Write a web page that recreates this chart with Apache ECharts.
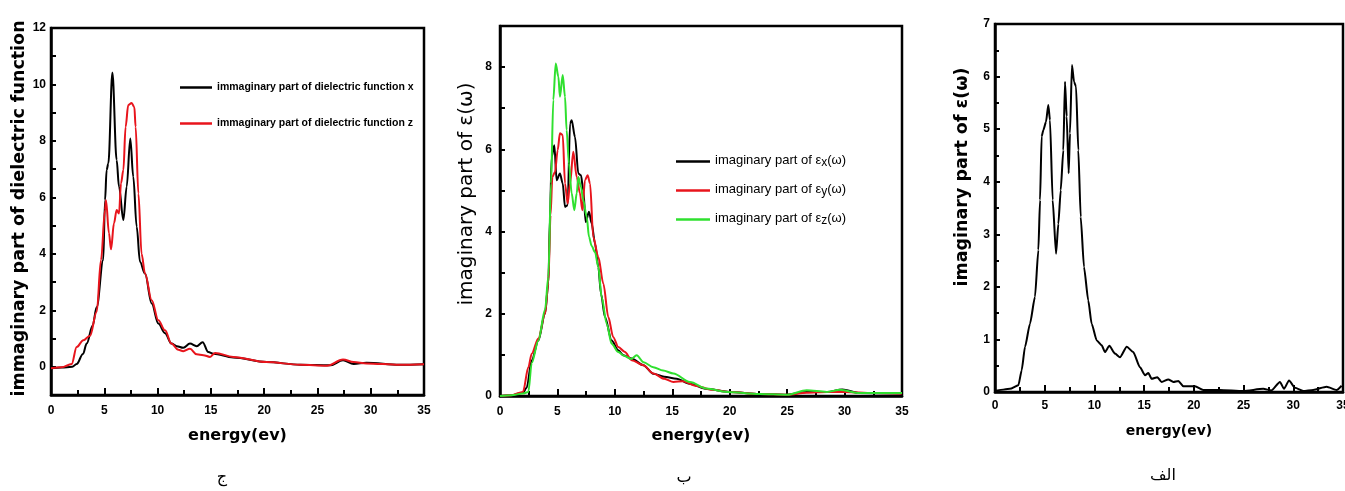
<!DOCTYPE html>
<html>
<head>
<meta charset="utf-8">
<script src="https://cdn.jsdelivr.net/npm/echarts@6/dist/echarts.min.js"></script>
<style>
  html, body { margin: 0; padding: 0; background: #fff; }
  #chart { width: 1345px; height: 491px; }
</style>
</head>
<body>
<div id="chart"></div>
<script>
// Imaginary part of the dielectric function vs photon energy (eV), three panels.

// Panel "ج": x and z components
const jEpsX = [[0,-0.05],[1,-0.03],[2,0.0],[2.41,0.1],[3.0,0.45],[3.35,0.82],[3.9,1.45],[4.29,2.12],[4.9,3.78],[5.07,5.9],[5.22,6.97],[5.38,7.2],[5.76,10.42],[6.16,7.32],[6.38,6.38],[6.79,5.2],[7.1,6.38],[7.44,8.09],[7.72,6.73],[8.04,4.96],[8.35,3.72],[8.82,3.3],[9.45,2.24],[10.07,1.53],[10.7,1.19],[11.3,0.82],[11.8,0.73],[12.41,0.67],[13.04,0.82],[13.67,0.73],[14.23,0.87],[14.76,0.52],[15.23,0.46],[17.1,0.33],[20.24,0.17],[23.4,0.07],[26.2,0.05],[27.4,0.23],[28.4,0.1],[29.6,0.14],[32.7,0.07],[35,0.09]];
const jEpsZ = [[0,-0.05],[1,-0.02],[1.94,0.1],[2.41,0.7],[3.03,0.94],[3.66,1.1],[4.29,1.95],[4.69,3.78],[5.07,5.55],[5.16,5.9],[5.44,4.73],[5.63,4.16],[5.91,5.08],[6.16,5.55],[6.38,5.43],[6.57,6.5],[6.79,6.97],[7.0,8.5],[7.25,9.27],[7.57,9.34],[7.82,9.2],[7.94,8.5],[8.2,6.14],[8.5,4.0],[8.82,3.3],[9.45,2.36],[10.07,1.65],[10.7,1.29],[11.3,0.82],[11.95,0.6],[12.41,0.55],[13.04,0.64],[13.67,0.44],[14.3,0.41],[14.92,0.35],[15.4,0.49],[17.1,0.35],[20.2,0.17],[23.4,0.07],[25.9,0.04],[27.4,0.26],[28.4,0.17],[29.6,0.12],[32.7,0.07],[35,0.09]];

// Panel "ب": x, y and z components
const bEpsX = [[0,0.0],[1,0.02],[2,0.08],[2.32,0.2],[2.76,0.87],[3.34,1.35],[3.92,2.0],[4.21,2.73],[4.35,4.36],[4.5,5.82],[4.73,6.1],[4.93,5.25],[5.22,5.41],[5.46,5.17],[5.66,4.6],[5.89,4.64],[6.1,6.63],[6.24,6.71],[6.53,6.3],[6.82,5.41],[7.05,5.37],[7.25,5.0],[7.46,4.23],[7.75,4.48],[7.98,4.2],[8.27,3.71],[8.56,3.14],[8.79,2.49],[9.14,1.92],[9.72,1.35],[10.3,1.11],[10.74,0.99],[11.46,0.91],[12.48,0.75],[13.35,0.54],[14.3,0.47],[15.38,0.42],[16.5,0.3],[18,0.17],[20,0.1],[22.6,0.05],[25,0.03],[26.7,0.1],[28.5,0.1],[29.8,0.16],[31.3,0.07],[35,0.06]];
const bEpsY = [[0,0.0],[1,0.02],[2,0.1],[2.47,0.7],[2.76,1.03],[3.34,1.4],[3.92,2.0],[4.21,2.75],[4.4,4.4],[4.56,5.33],[4.79,5.45],[5.02,5.98],[5.22,6.39],[5.46,6.35],[5.66,5.17],[5.89,4.68],[6.1,5.17],[6.38,5.94],[6.68,5.33],[6.96,4.93],[7.17,4.52],[7.4,5.25],[7.63,5.37],[7.84,5.17],[8.12,3.87],[8.56,3.38],[9.0,2.73],[9.43,1.92],[9.86,1.43],[10.3,1.19],[10.88,1.07],[11.46,0.87],[12.48,0.75],[13.35,0.55],[14.3,0.42],[15.1,0.34],[15.9,0.36],[17,0.25],[18.5,0.15],[20,0.1],[22.6,0.05],[25,0.03],[26.7,0.08],[28.5,0.1],[30,0.1],[32.5,0.07],[35,0.06]];
const bEpsZ = [[0,0.0],[1,0.02],[2,0.06],[2.47,0.1],[2.76,0.8],[3.34,1.35],[3.92,2.1],[4.21,2.9],[4.44,5.17],[4.64,7.2],[4.85,8.09],[5.08,7.77],[5.22,7.28],[5.46,7.81],[5.66,7.28],[5.8,6.47],[6.0,5.66],[6.24,4.93],[6.47,4.52],[6.68,4.93],[6.82,5.33],[7.05,5.09],[7.25,4.76],[7.55,4.36],[7.75,3.87],[7.98,3.65],[8.27,3.5],[8.56,3.14],[8.85,2.41],[9.29,1.76],[9.72,1.27],[10.3,1.07],[10.8,0.98],[11.4,0.9],[11.9,0.99],[12.5,0.82],[13.35,0.7],[14.2,0.62],[15.1,0.55],[16.54,0.34],[18.0,0.18],[19.74,0.1],[22.6,0.05],[25.0,0.03],[26.7,0.14],[28.45,0.1],[29.6,0.15],[31.3,0.07],[35,0.07]];

// Panel "الف": averaged spectrum
const aEps = [[0,0.0],[0.17,0.03],[1.5,0.06],[2.35,0.13],[2.68,0.41],[3.02,0.86],[3.52,1.3],[4.02,1.81],[4.36,2.7],[4.53,3.65],[4.69,4.86],[4.86,4.98],[5.13,5.14],[5.36,5.46],[5.53,5.17],[5.8,3.65],[6.14,2.63],[6.37,3.2],[6.61,3.84],[6.87,4.6],[7.04,5.9],[7.21,5.24],[7.41,4.16],[7.54,4.92],[7.74,6.22],[7.95,5.9],[8.15,5.81],[8.38,4.6],[8.62,3.33],[8.95,2.38],[9.38,1.74],[9.72,1.3],[10.23,0.98],[10.73,0.89],[11.06,0.76],[11.5,0.88],[12.07,0.73],[12.57,0.66],[13.25,0.86],[13.9,0.76],[14.58,0.47],[15.09,0.32],[15.42,0.36],[15.76,0.25],[16.33,0.28],[16.76,0.19],[17.43,0.24],[17.93,0.19],[18.44,0.21],[18.94,0.11],[20.11,0.11],[20.95,0.04],[22.6,0.04],[24.97,0.02],[26.98,0.06],[27.8,0.03],[28.66,0.19],[29.07,0.06],[29.57,0.22],[30.17,0.08],[31.0,0.02],[32.0,0.04],[33.35,0.1],[34.36,0.04],[34.86,0.12]];

// Axis ranges and tick steps
const energyRange = [0, 35];
const energyStep = 5;
const jRange = [-1, 12];
const bRange = [0, 9];
const aRange = [0, 7];

// Legend / panel texts
const jNames = ['immaginary part of dielectric function x', 'immaginary part of dielectric function z'];
const bNames = ['εx', 'εy', 'εz'];
const panelTags = ['ج', 'ب', 'الف'];

const FONT = "'Liberation Sans', Arial, sans-serif";
const WIDE = "'DejaVu Sans', Verdana, sans-serif";
const BLACK = '#000000', RED = '#e8141c', GREEN = '#2fe02f';

function xAxisFor(gridIndex, nameGap, nameSize, labelMargin) {
  return {
    type: 'value', gridIndex, min: energyRange[0], max: energyRange[1], interval: energyStep,
    name: 'energy(ev)', nameLocation: 'middle', nameGap,
    nameTextStyle: { fontFamily: WIDE, fontWeight: 'bold', fontSize: nameSize, color: '#000' },
    axisLine: { onZero: false, lineStyle: { color: '#000', width: 2.5 } },
    axisTick: { inside: true, length: 7, lineStyle: { color: '#000', width: 2 } },
    minorTick: { show: true, splitNumber: 2, length: 5, lineStyle: { color: '#000', width: 2 } },
    axisLabel: { fontFamily: FONT, fontWeight: 'bold', fontSize: 12, color: '#000', margin: labelMargin },
    splitLine: { show: false }
  };
}

function yAxisFor(gridIndex, range, opts) {
  return {
    type: 'value', gridIndex, min: range[0], max: range[1], interval: opts.interval,
    name: opts.name, nameLocation: 'middle', nameGap: opts.nameGap,
    nameTextStyle: Object.assign({ fontFamily: WIDE, color: '#000' }, opts.nameStyle),
    axisLine: { onZero: false, lineStyle: { color: '#000', width: 2.5 } },
    axisTick: { inside: true, length: 5, lineStyle: { color: '#000', width: 2 } },
    minorTick: { show: !!opts.minor, splitNumber: 2, length: 4, lineStyle: { color: '#000', width: 2 } },
    axisLabel: {
      fontFamily: FONT, fontWeight: 'bold', fontSize: 12, color: '#000', margin: opts.labelMargin,
      formatter: opts.formatter
    },
    splitLine: { show: false }
  };
}

const evenOnly = v => (Math.round(v) % 2 === 0 ? String(Math.round(v)) : '');

function lineSeries(name, data, color, axisIndex, smooth) {
  return {
    type: 'line', name, data, xAxisIndex: axisIndex, yAxisIndex: axisIndex,
    showSymbol: false, symbol: 'none', smooth, smoothMonotone: 'x',
    lineStyle: { color, width: 2 }, itemStyle: { color },
    animation: false, silent: true
  };
}

const gridBox = { show: true, borderColor: '#000', borderWidth: 2.5, containLabel: false, outerBoundsMode: 'none' };

const option = {
  backgroundColor: '#ffffff',
  animation: false,
  grid: [
    Object.assign({ left: 51, right: 921, top: 28, bottom: 96 }, gridBox),
    Object.assign({ left: 500, right: 443, top: 26, bottom: 95 }, gridBox),
    Object.assign({ left: 995, right: 2, top: 24, bottom: 99 }, gridBox)
  ],
  xAxis: [
    xAxisFor(0, 33, 16, 10),
    xAxisFor(1, 32, 16, 10),
    xAxisFor(2, 32, 14, 8)
  ],
  yAxis: [
    yAxisFor(0, jRange, {
      interval: 1, formatter: evenOnly, labelMargin: 5, nameGap: 23,
      name: 'immaginary part of dielectric function',
      nameStyle: { fontWeight: 'bold', fontSize: 17.5, padding: [0, 0, 0, 6] }
    }),
    yAxisFor(1, bRange, {
      interval: 1, formatter: evenOnly, labelMargin: 8, nameGap: 23,
      name: 'imaginary part of ε(ω)',
      nameStyle: { fontWeight: 'normal', fontSize: 20, padding: [0, 0, 0, 34] }
    }),
    yAxisFor(2, aRange, {
      interval: 1, minor: true, labelMargin: 5, nameGap: 24,
      name: 'imaginary part of ε(ω)',
      nameStyle: { fontWeight: 'bold', fontSize: 17.5, padding: [0, 0, 0, 62] }
    })
  ],
  legend: [
    {
      data: jNames, orient: 'vertical', left: 175, top: 77, itemGap: 25,
      itemWidth: 32, itemHeight: 2.5, icon: 'rect', selectedMode: false,
      textStyle: { fontFamily: FONT, fontWeight: 'bold', fontSize: 10.5, color: '#000' }
    },
    {
      data: bNames, orient: 'vertical', left: 671, top: 146, itemGap: 11,
      itemWidth: 34, itemHeight: 2.5, icon: 'rect', selectedMode: false,
      formatter: n => '{t|imaginary part of ε}{s|' + n.slice(1) + '}{t|(ω)}',
      textStyle: {
        fontFamily: FONT, fontSize: 13, color: '#000',
        rich: {
          t: { fontFamily: FONT, fontSize: 13, color: '#000', lineHeight: 15, verticalAlign: 'top' },
          s: { fontFamily: FONT, fontSize: 12, color: '#000', lineHeight: 12, padding: [6, 0, 0, 0], verticalAlign: 'bottom' }
        }
      }
    }
  ],
  series: [
    lineSeries(jNames[0], jEpsX, BLACK, 0, 0.35),
    lineSeries(jNames[1], jEpsZ, RED, 0, 0.35),
    lineSeries(bNames[0], bEpsX, BLACK, 1, 0.3),
    lineSeries(bNames[1], bEpsY, RED, 1, 0.3),
    lineSeries(bNames[2], bEpsZ, GREEN, 1, 0.3),
    lineSeries('average', aEps, BLACK, 2, 0.2)
  ],
  graphic: [
    { type: 'text', x: 222, y: 478, style: { text: panelTags[0], font: "16px 'Liberation Serif', 'DejaVu Sans', serif", fill: '#000', align: 'center', verticalAlign: 'middle' } },
    { type: 'text', x: 684, y: 478, style: { text: panelTags[1], font: "16px 'Liberation Serif', 'DejaVu Sans', serif", fill: '#000', align: 'center', verticalAlign: 'middle' } },
    { type: 'text', x: 1163, y: 476, style: { text: panelTags[2], font: "16px 'Liberation Serif', 'DejaVu Sans', serif", fill: '#000', align: 'center', verticalAlign: 'middle' } }
  ]
};

const chart = echarts.init(document.getElementById('chart'), null, { renderer: 'canvas' });
chart.setOption(option);
</script>
</body>
</html>
